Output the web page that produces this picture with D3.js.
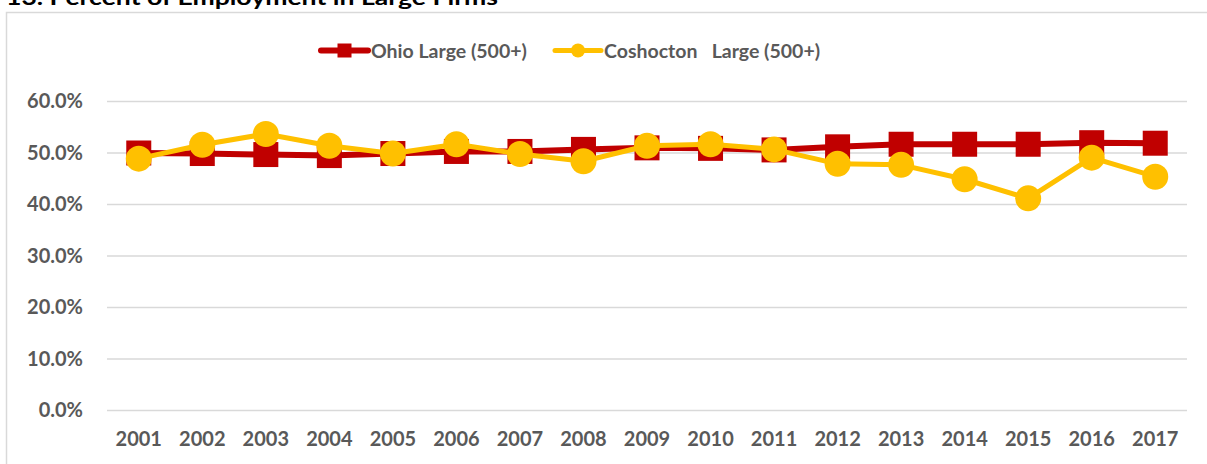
<!DOCTYPE html>
<html>
<head>
<meta charset="utf-8">
<script src="https://cdn.jsdelivr.net/npm/d3@7"></script>
<style>
  html, body { margin: 0; padding: 0; background: #fff; }
  svg { display: block; }
  text { font-family: Lato, "Open Sans", sans-serif; font-weight: bold; }
</style>
</head>
<body>
<svg id="chart" width="1207" height="464"></svg>
<script>
const title = "13. Percent of Employment in Large Firms";
const years = ["2001","2002","2003","2004","2005","2006","2007","2008","2009","2010","2011","2012","2013","2014","2015","2016","2017"];
const ohioLarge = [50.0, 49.9, 49.7, 49.5, 49.9, 50.3, 50.3, 50.7, 51.0, 50.9, 50.6, 51.2, 51.7, 51.7, 51.7, 52.0, 51.9];
const coshoctonLarge = [48.9, 51.6, 53.7, 51.4, 49.9, 51.7, 49.8, 48.4, 51.4, 51.7, 50.7, 47.9, 47.7, 44.9, 41.2, 49.1, 45.4];
const yTicks = [0, 10, 20, 30, 40, 50, 60];
const seriesNames = ["Ohio Large (500+)", "Coshocton   Large (500+)"];

const svg = d3.select("#chart");
const W = 1207, H = 464;
const plot = {left: 107, right: 1187, top: 101.5, bottom: 410.5};

// title (partly cut by top edge, as in the reference)
svg.append("text")
  .attr("x", 6).attr("y", 5)
  .attr("font-size", 21)
  .attr("font-family", "'Liberation Sans', Arial, sans-serif")
  .attr("textLength", 492).attr("lengthAdjust", "spacingAndGlyphs")
  .attr("fill", "#000")
  .text(title);

// chart border
svg.append("rect")
  .attr("x", 6.5).attr("y", 12.5)
  .attr("width", W + 10).attr("height", H)
  .attr("fill", "none").attr("stroke", "#d9d9d9").attr("stroke-width", 1.5);

const x = d3.scaleBand().domain(years).range([plot.left, plot.right]);
const y = d3.scaleLinear().domain([0, 60]).range([plot.bottom, plot.top]);

// gridlines
svg.append("g").selectAll("line").data(yTicks).join("line")
  .attr("x1", plot.left).attr("x2", plot.right)
  .attr("y1", d => y(d)).attr("y2", d => y(d))
  .attr("stroke", "#d9d9d9").attr("stroke-width", 1.5);

// y axis labels
const yAxis = d3.axisLeft(y).tickValues(yTicks).tickSize(0).tickPadding(0)
  .tickFormat(d => d.toFixed(1) + "%");
const gy = svg.append("g").attr("transform", "translate(83,0)").call(yAxis);
gy.select(".domain").remove();
gy.selectAll("text").attr("font-size", 20).attr("fill", "#595959")
  .attr("font-family", "Lato, sans-serif").attr("font-weight", "bold");

// x axis labels
const xAxis = d3.axisBottom(x).tickSize(0).tickPadding(0);
const gx = svg.append("g").attr("transform", "translate(0,432)").call(xAxis);
gx.select(".domain").remove();
gx.selectAll("text").attr("font-size", 20).attr("fill", "#595959")
  .attr("font-family", "Lato, sans-serif").attr("font-weight", "bold");

const cx = d => x(d) + x.bandwidth() / 2;
const line = d3.line().x((d, i) => cx(years[i])).y(d => y(d));

const red = "#C00000", gold = "#FFC000";

// Ohio series
svg.append("path").datum(ohioLarge)
  .attr("d", line).attr("fill", "none")
  .attr("stroke", red).attr("stroke-width", 6).attr("stroke-linejoin", "round");
svg.append("g").selectAll("rect").data(ohioLarge).join("rect")
  .attr("x", (d, i) => cx(years[i]) - 12.5)
  .attr("y", d => y(d) - 12.5)
  .attr("width", 25).attr("height", 25)
  .attr("fill", red);

// Coshocton series
svg.append("path").datum(coshoctonLarge)
  .attr("d", line).attr("fill", "none")
  .attr("stroke", gold).attr("stroke-width", 5).attr("stroke-linejoin", "round");
svg.append("g").selectAll("circle").data(coshoctonLarge).join("circle")
  .attr("cx", (d, i) => cx(years[i]))
  .attr("cy", d => y(d))
  .attr("r", 13)
  .attr("fill", gold);

// legend
const legendY = 50.5;
const leg = [
  {name: seriesNames[0], color: red, x0: 321, x1: 368, tx: 371, shape: "rect", sw: 6},
  {name: seriesNames[1], color: gold, x0: 555, x1: 601, tx: 604, shape: "circle", sw: 5}
];
leg.forEach(l => {
  const g = svg.append("g");
  g.append("line").attr("x1", l.x0).attr("x2", l.x1).attr("y1", legendY).attr("y2", legendY)
    .attr("stroke", l.color).attr("stroke-width", l.sw).attr("stroke-linecap", "round");
  const mx = (l.x0 + l.x1) / 2;
  if (l.shape === "rect") {
    g.append("rect").attr("x", mx - 7).attr("y", legendY - 7).attr("width", 14).attr("height", 14).attr("fill", l.color);
  } else {
    g.append("circle").attr("cx", mx).attr("cy", legendY).attr("r", 7).attr("fill", l.color);
  }
  g.append("text").attr("x", l.tx).attr("y", legendY + 7)
    .attr("font-size", 19.5).attr("fill", "#595959")
    .style("white-space", "pre")
    .text(l.name);
});
</script>
</body>
</html>
